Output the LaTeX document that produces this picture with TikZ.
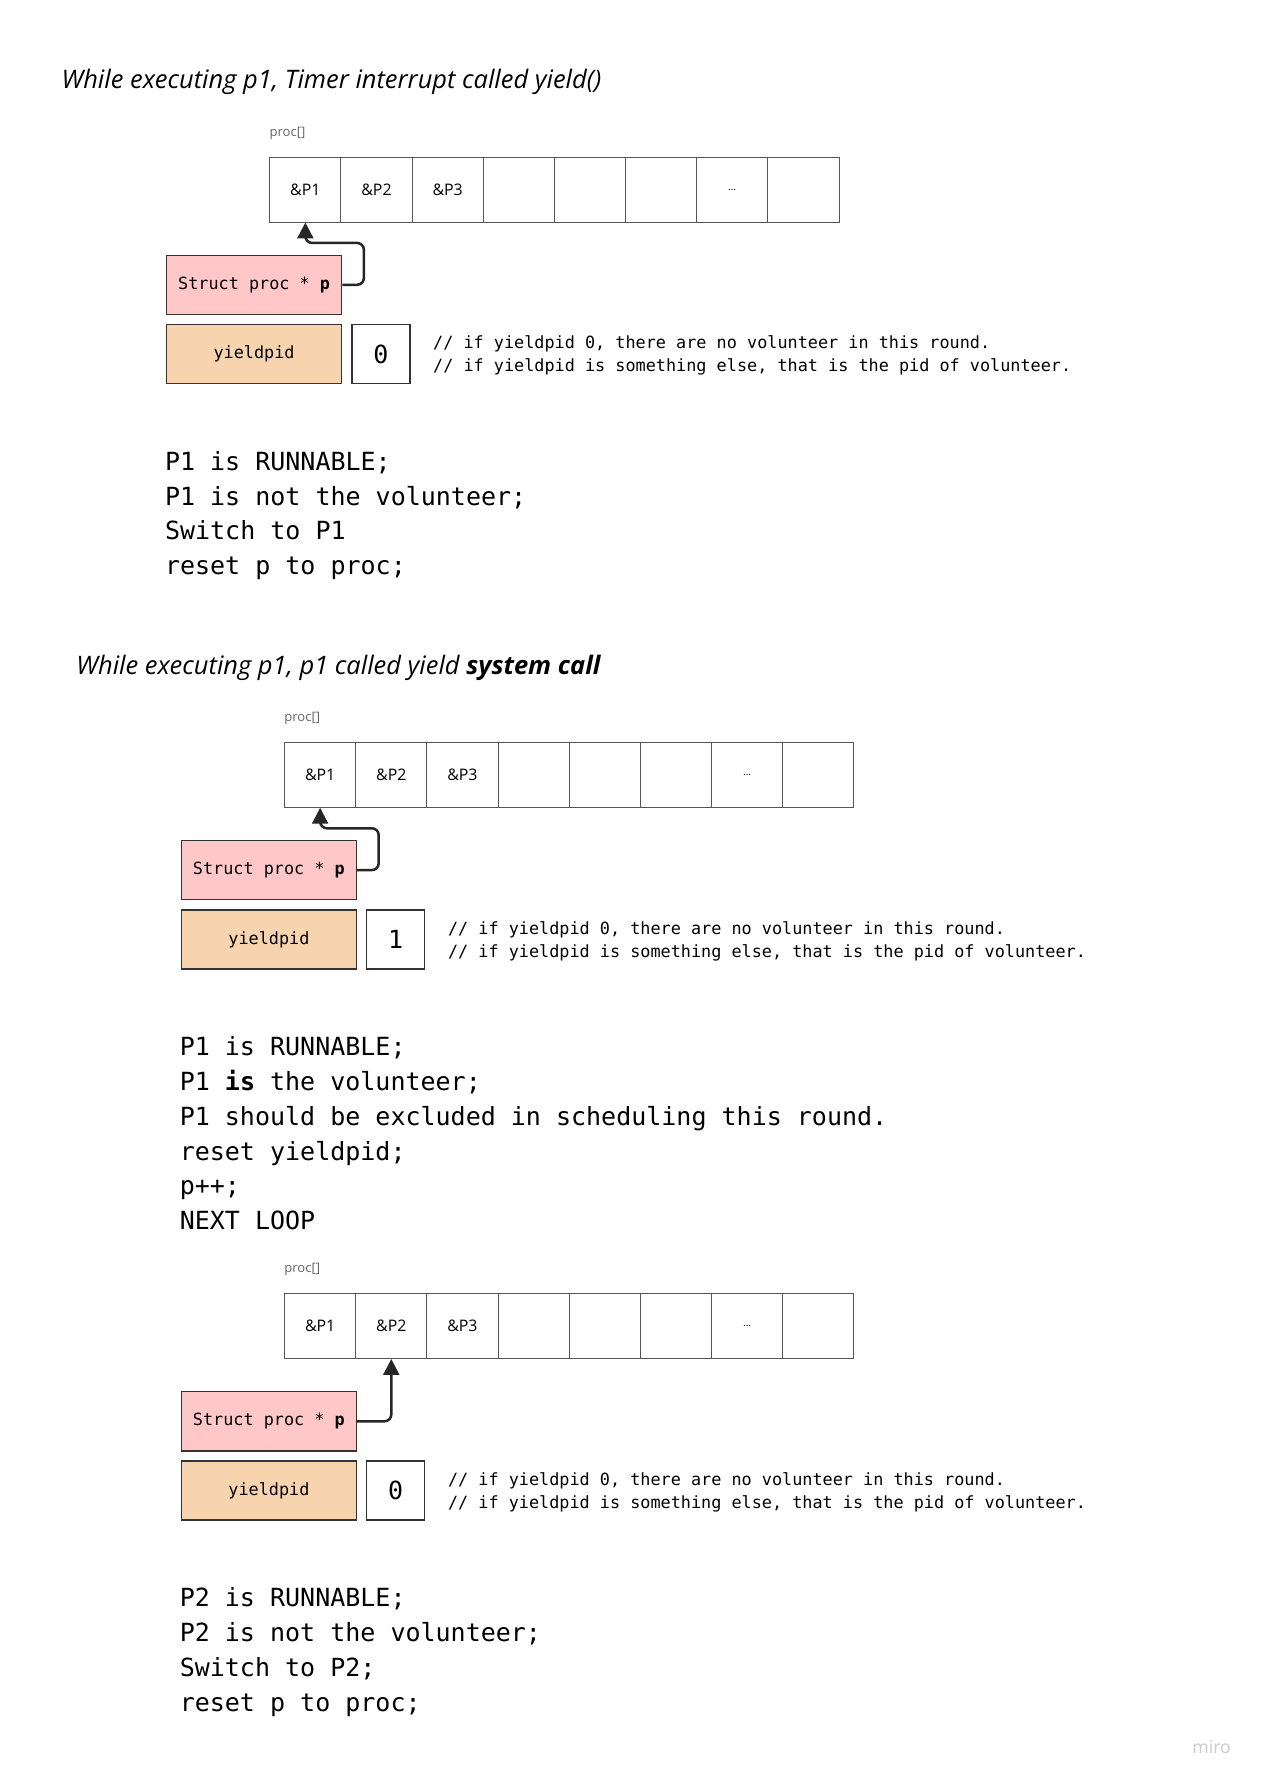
\documentclass[tikz,border=0pt]{standalone}
\usepackage{fontspec}
\setmainfont{Open Sans}
\setmonofont{DejaVu Sans Mono}
\usetikzlibrary{arrows.meta}

\definecolor{ptrpink}{HTML}{FFC7C7}
\definecolor{pidpeach}{HTML}{F7D4AE}
\definecolor{edgegray}{HTML}{555555}
\definecolor{mirogray}{HTML}{C9C9D2}

\tikzset{
  cell/.style={draw=edgegray, line width=0.8pt, minimum width=62.6pt, minimum height=57pt,
    inner sep=0pt, anchor=north west, font=\fontsize{14}{16}\selectfont},
  arrname/.style={anchor=west, inner sep=0pt, text=black!60, font=\fontsize{11.5}{13}\selectfont},
  ptrbox/.style={draw=black!80, line width=1.2pt, fill=ptrpink, minimum width=154pt,
    minimum height=52pt, anchor=north west, font=\ttfamily\fontsize{14.8}{17}\selectfont},
  pidbox/.style={ptrbox, fill=pidpeach},
  valbox/.style={draw=black!80, line width=1.2pt, fill=white, minimum width=51pt,
    minimum height=52pt, anchor=north west, font=\ttfamily\fontsize{22}{24}\selectfont},
  note/.style={anchor=west, align=left, inner sep=0pt, font=\ttfamily\fontsize{14.8}{20}\selectfont},
  code/.style={anchor=north west, align=left, inner sep=0pt, font=\ttfamily\fontsize{22}{30.6}\selectfont},
  heading/.style={anchor=west, inner sep=0pt, font=\itshape\fontsize{22.4}{26}\selectfont},
  ptrarrow/.style={line width=2.2pt, draw=black!85, rounded corners=6pt,
    -{Triangle[length=14pt,width=14pt]}}
}

\begin{document}
\begin{tikzpicture}[x=1pt, y=-1pt]
  \fill[white] (0,0) rectangle (1110,1568);
  \useasboundingbox (0,0) rectangle (1110,1568);

  % First case: timer interrupt
  \node[heading] (atitle) at (54,72) {While executing p1, Timer interrupt called yield()};
  \begin{scope}[shift={(237,138)}]
    \node[arrname] (aname) at (0,-21) {proc[]};
    \foreach \i/\t in {1/\&P1,2/\&P2,3/\&P3,4/,5/,6/,7/{\fontsize{9}{9}\selectfont …},8/}
      \node[cell] (acell\i) at ({(\i-1)*62.6},0) {\t};
    \node[ptrbox] (aptr) at (-91,86) {Struct proc * \textbf{p}};
    \node[pidbox] (apid) at (-91,147) {yieldpid};
    \node[valbox] (aval) at (72,147) {0};
    \node[note] (anote) at (144,175) {// if yieldpid 0, there are no volunteer in this round.\\
      // if yieldpid is something else, that is the pid of volunteer.};
    \node[code] (acode) at (-92,259) {P1 is RUNNABLE;\\P1 is not the volunteer;\\Switch to P1\\reset p to proc;};
    \draw[ptrarrow] (aptr.east) -- ++(19,0) |- ([yshift=-18pt]acell1.south) -- (acell1.south);
  \end{scope}

  % Second case: yield system call
  \node[heading] (btitle) at (67,588) {While executing p1, p1 called yield \textbf{system call}};
  \begin{scope}[shift={(250,653)}]
    \node[arrname] (bname) at (0,-21) {proc[]};
    \foreach \i/\t in {1/\&P1,2/\&P2,3/\&P3,4/,5/,6/,7/{\fontsize{9}{9}\selectfont …},8/}
      \node[cell] (bcell\i) at ({(\i-1)*62.6},0) {\t};
    \node[ptrbox] (bptr) at (-91,86) {Struct proc * \textbf{p}};
    \node[pidbox] (bpid) at (-91,147) {yieldpid};
    \node[valbox] (bval) at (72,147) {1};
    \node[note] (bnote) at (144,175) {// if yieldpid 0, there are no volunteer in this round.\\
      // if yieldpid is something else, that is the pid of volunteer.};
    \node[code] (bcode) at (-92,259) {P1 is RUNNABLE;\\P1 \textbf{is} the volunteer;\\
      P1 should be excluded in scheduling this round.\\reset yieldpid;\\p++;\\NEXT LOOP};
    \draw[ptrarrow] (bptr.east) -- ++(19,0) |- ([yshift=-18pt]bcell1.south) -- (bcell1.south);
  \end{scope}

  % Next loop: p points to P2
  \begin{scope}[shift={(250,1138)}]
    \node[arrname] (cname) at (0,-21) {proc[]};
    \foreach \i/\t in {1/\&P1,2/\&P2,3/\&P3,4/,5/,6/,7/{\fontsize{9}{9}\selectfont …},8/}
      \node[cell] (ccell\i) at ({(\i-1)*62.6},0) {\t};
    \node[ptrbox] (cptr) at (-91,86) {Struct proc * \textbf{p}};
    \node[pidbox] (cpid) at (-91,147) {yieldpid};
    \node[valbox] (cval) at (72,147) {0};
    \node[note] (cnote) at (144,175) {// if yieldpid 0, there are no volunteer in this round.\\
      // if yieldpid is something else, that is the pid of volunteer.};
    \node[code] (ccode) at (-92,259) {P2 is RUNNABLE;\\P2 is not the volunteer;\\Switch to P2;\\reset p to proc;};
    \draw[ptrarrow] (cptr.east) -| (ccell2.south);
  \end{scope}

  % Watermark
  \node[anchor=west, inner sep=0pt, text=mirogray, font=\fontsize{15.5}{17}\selectfont] (miro) at (1049,1537) {miro};
\end{tikzpicture}
\end{document}
